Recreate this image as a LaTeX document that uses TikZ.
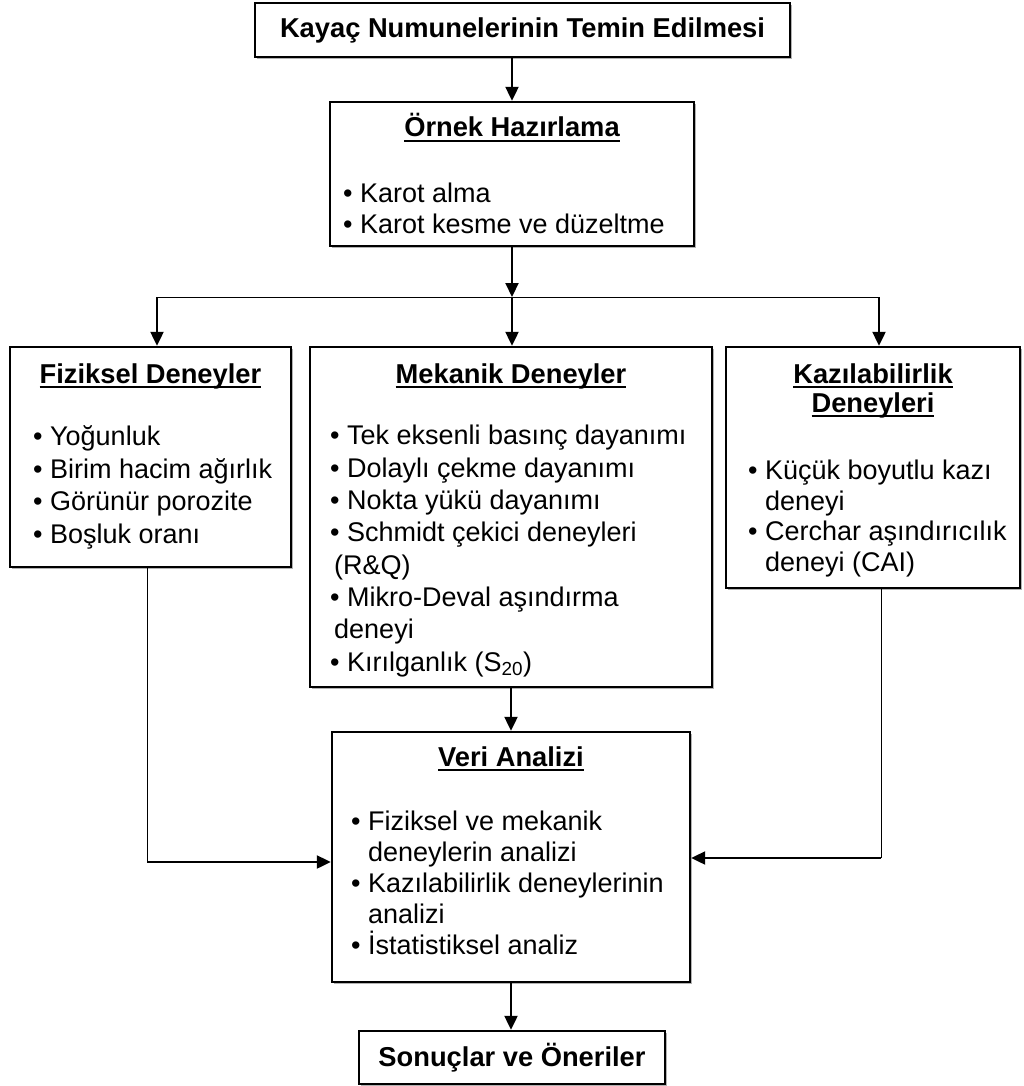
\documentclass[tikz,border=0pt]{standalone}
\usepackage{fontspec}
\setmainfont{Liberation Sans}
\usetikzlibrary{arrows.meta, positioning, shadows}

\newsavebox{\hdbox}
\newcommand{\itm}{\textbullet\ }
\newcommand{\hd}[1]{\sbox{\hdbox}{#1}\rlap{\rule[-5pt]{\wd\hdbox}{1.8pt}}\usebox{\hdbox}}

\begin{document}
\begin{tikzpicture}[
    x=1pt, y=-1pt,
    box/.style={rectangle, draw=black, line width=2.4pt, fill=white, inner sep=0pt,
                drop shadow={shadow xshift=2.4pt, shadow yshift=-2.4pt, opacity=1, fill=gray!60}},
    head/.style={inner sep=0pt, anchor=base, align=center,
                 font=\fontsize{27.3}{29}\selectfont\bfseries},
    items/.style={inner sep=0pt, anchor=base west, align=left,
                  font=\fontsize{27}{31}\selectfont},
    arr/.style={-{Triangle[length=14pt, width=13pt]}, line width=2.2pt},
    thinline/.style={line width=1pt}
  ]
    \useasboundingbox (0,0) rectangle (1023,1086);
    %% note: multi-line nodes are placed by the baseline of their last line

    %% ── Row 1: sampling
    \node[box, minimum width=535pt, minimum height=54pt,
          font=\fontsize{27.3}{29}\selectfont\bfseries] (kayac) at (522.5,30)
          {Kayaç Numunelerinin Temin Edilmesi};

    %% ── Row 2: specimen preparation
    \node[box, minimum width=364pt, minimum height=144pt] (ornek) at (512,174) {};
    \node[head] (ornekH) at (512,137) {\hd{Örnek Hazırlama}};
    \node[items] (ornekL) at (343,233)
          {\itm Karot alma\\ \itm Karot kesme ve düzeltme};

    %% ── Row 3: test groups
    \node[box, minimum width=281pt, minimum height=220pt] (fiz) at (150.5,457) {};
    \node[head] (fizH) at (150.5,383) {\hd{Fiziksel Deneyler}};
    \node[items, font=\fontsize{27}{32.5}\selectfont] (fizL) at (33,543)
          {\itm Yoğunluk\\
           \itm Birim hacim ağırlık\\
           \itm Görünür porozite\\
           \itm Boşluk oranı};

    \node[box, minimum width=402pt, minimum height=340pt] (mek) at (511,517) {};
    \node[head] (mekH) at (511,383) {\hd{Mekanik Deneyler}};
    \node[items, font=\fontsize{27}{32.3}\selectfont] (mekL) at (330,671)
          {\itm Tek eksenli basınç dayanımı\\
           \itm Dolaylı çekme dayanımı\\
           \itm Nokta yükü dayanımı\\
           \itm Schmidt çekici deneyleri\\
           \hspace*{4pt}(R\&Q)\\
           \itm Mikro-Deval aşındırma\\
           \hspace*{4pt}deneyi\\
           \itm Kırılganlık (S\textsubscript{20})};

    \node[box, minimum width=294pt, minimum height=241pt] (kazi) at (873,467.5) {};
    \node[head] (kaziH) at (873,412) {\hd{Kazılabilirlik}\\ \hd{Deneyleri}};
    \node[items, font=\fontsize{27}{30.5}\selectfont] (kaziL) at (748,571)
          {\itm Küçük boyutlu kazı\\
           \phantom{\itm}deneyi\\
           \itm Cerchar aşındırıcılık\\
           \phantom{\itm}deneyi (CAI)};

    %% ── Row 4: data analysis
    \node[box, minimum width=358pt, minimum height=250pt] (veri) at (511,857) {};
    \node[head] (veriH) at (511,766) {\hd{Veri Analizi}};
    \node[items] (veriL) at (351,954)
          {\itm Fiziksel ve mekanik\\
           \phantom{\itm}deneylerin analizi\\
           \itm Kazılabilirlik deneylerinin\\
           \phantom{\itm}analizi\\
           \itm İstatistiksel analiz};

    %% ── Row 5: results
    \node[box, minimum width=306pt, minimum height=53pt,
          font=\fontsize{27.3}{29}\selectfont\bfseries] (sonuc) at (512,1057.5)
          {Sonuçlar ve Öneriler};

    %% branching points
    \coordinate (split) at (512,297);
    \coordinate (fl) at (157,297);
    \coordinate (fr) at (879,297);
    \coordinate (lj) at (147,862);
    \coordinate (rj) at (881,858);

    %% Arrows: top -> preparation -> test groups
    \draw[arr] (kayac.south -| ornek.north) -- (ornek.north);
    \draw[arr] (ornek.south) -- (split);
    \draw[thinline] (fl) -- (fr);
    \draw[arr] (fl) -- (fl |- fiz.north);
    \draw[arr] (split) -- (split |- mek.north);
    \draw[arr] (fr) -- (fr |- kazi.north);

    %% Arrows: test groups -> data analysis
    \draw[thinline] (fiz.south -| lj) -- (lj);
    \draw[arr] (lj) -- (lj -| veri.west);
    \draw[thinline] (kazi.south -| rj) -- (rj);
    \draw[arr] (rj) -- (rj -| veri.east);
    \draw[arr] (mek.south) -- (veri.north);

    %% Arrow: analysis -> results
    \draw[arr] (veri.south) -- (veri.south |- sonuc.north);

  \end{tikzpicture}
\end{document}
